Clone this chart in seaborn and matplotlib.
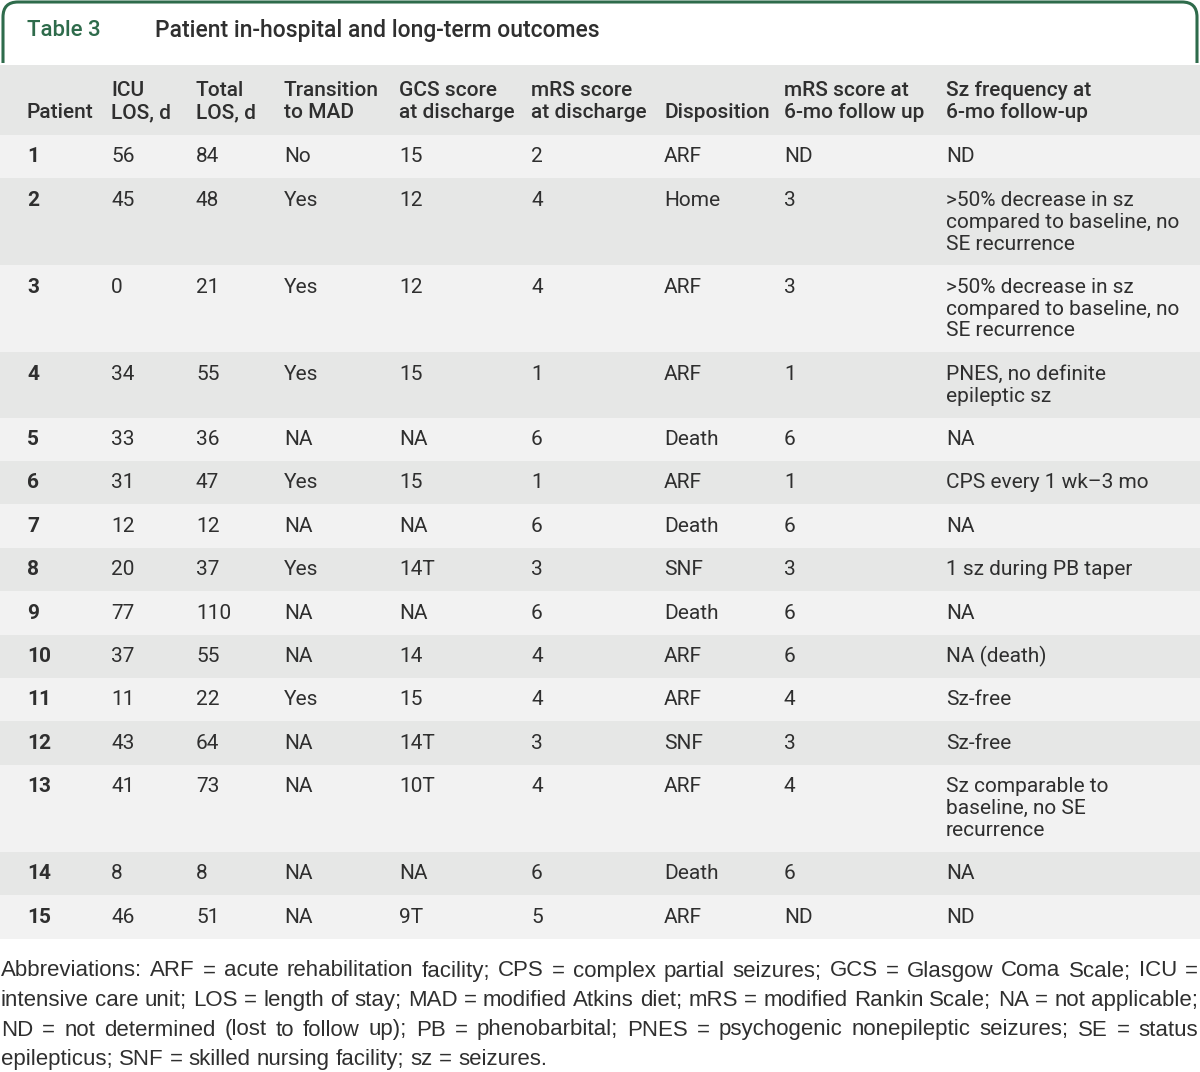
"""
Table 3 - patient in-hospital and long-term outcomes, drawn as a figure
"""

import numpy as np
import pandas as pd
import matplotlib.pyplot as plt
from matplotlib.path import Path
from matplotlib.patches import PathPatch
import seaborn as sns

sns.set_theme(style='white')
plt.rcParams['font.family'] = ['Roboto', 'DejaVu Sans']

# ---- table content ----
title_tag = 'Table 3'
title_text = 'Patient in-hospital and long-term outcomes'

header_line1 = ['', 'ICU', 'Total', 'Transition', 'GCS score', 'mRS score', '',
                'mRS score at', 'Sz frequency at']
header_line2 = ['Patient', 'LOS, d', 'LOS, d', 'to MAD', 'at discharge',
                'at discharge', 'Disposition', '6-mo follow up', '6-mo follow-up']

patient = ['1', '2', '3', '4', '5', '6', '7', '8', '9', '10', '11', '12', '13', '14', '15']
icu_los = ['56', '45', '0', '34', '33', '31', '12', '20', '77', '37', '11', '43', '41', '8', '46']
total_los = ['84', '48', '21', '55', '36', '47', '12', '37', '110', '55', '22', '64', '73', '8', '51']
transition = ['No', 'Yes', 'Yes', 'Yes', 'NA', 'Yes', 'NA', 'Yes', 'NA', 'NA', 'Yes', 'NA',
              'NA', 'NA', 'NA']
gcs = ['15', '12', '12', '15', 'NA', '15', 'NA', '14T', 'NA', '14', '15', '14T', '10T',
       'NA', '9T']
mrs_discharge = ['2', '4', '4', '1', '6', '1', '6', '3', '6', '4', '4', '3', '4', '6', '5']
disposition = ['ARF', 'Home', 'ARF', 'ARF', 'Death', 'ARF', 'Death', 'SNF', 'Death', 'ARF',
               'ARF', 'SNF', 'ARF', 'Death', 'ARF']
mrs_6mo = ['ND', '3', '3', '1', '6', '1', '6', '3', '6', '6', '4', '3', '4', '6', 'ND']
sz_freq = ['ND',
           '>50% decrease in sz\ncompared to baseline, no\nSE recurrence',
           '>50% decrease in sz\ncompared to baseline, no\nSE recurrence',
           'PNES, no definite\nepileptic sz',
           'NA',
           'CPS every 1 wk\u20133 mo',
           'NA',
           '1 sz during PB taper',
           'NA',
           'NA (death)',
           'Sz-free',
           'Sz-free',
           'Sz comparable to\nbaseline, no SE\nrecurrence',
           'NA',
           'ND']

footnote_lines = [
    'Abbreviations: ARF = acute rehabilitation facility; CPS = complex partial seizures; GCS = Glasgow Coma Scale; ICU =',
    'intensive care unit; LOS = length of stay; MAD = modified Atkins diet; mRS = modified Rankin Scale; NA = not applicable;',
    'ND = not determined (lost to follow up); PB = phenobarbital; PNES = psychogenic nonepileptic seizures; SE = status',
    'epilepticus; SNF = skilled nursing facility; sz = seizures.',
]

df = pd.DataFrame({
    'patient': patient, 'icu': icu_los, 'total': total_los, 'mad': transition,
    'gcs': gcs, 'mrs_dc': mrs_discharge, 'disp': disposition, 'mrs_6': mrs_6mo,
    'sz': sz_freq,
})

# ---- layout / style ----
GREEN = '#2e6b4b'
TEXT = '#2f2f2f'
ROW_LIGHT = '#f2f2f2'
ROW_DARK = '#e6e7e6'
FS = 15
FOOT_FS = 16
FOOT_FONT = ['Liberation Sans', 'DejaVu Sans']

col_x = [27, 111, 196, 284, 399, 531, 664, 784, 946]
header_top, header_bottom = 65, 135
line_h = 21.8
single_h = 43.4

n_lines = df['sz'].str.count('\n') + 1
row_h = single_h + (n_lines - 1) * line_h
row_top = header_bottom + np.concatenate([[0], np.cumsum(row_h)[:-1]])
row_center = row_top + row_h / 2

fig = plt.figure(figsize=(12, 10.72), dpi=100)
ax = fig.add_axes([0, 0, 1, 1])
ax.set_xlim(0, 1200)
ax.set_ylim(1072, 0)
ax.axis('off')

# title frame (rounded top, open bottom)
r = 15
verts = [(3, 63), (3, 2 + r), (3, 2), (3 + r, 2), (1197 - r, 2), (1197, 2),
         (1197, 2 + r), (1197, 63)]
codes = [Path.MOVETO, Path.LINETO, Path.CURVE3, Path.CURVE3, Path.LINETO,
         Path.CURVE3, Path.CURVE3, Path.LINETO]
ax.add_patch(PathPatch(Path(verts, codes), facecolor='none', edgecolor=GREEN, lw=2.2))
ax.text(27, 30, title_tag, color=GREEN, fontsize=16, fontweight='medium', va='center')
ax.text(155, 30, title_text, color=TEXT, fontsize=16.5, fontweight='medium', va='center')

# header band + row bands
ax.barh([(header_top + header_bottom) / 2], [1200], height=header_bottom - header_top,
        left=0, color=ROW_DARK, edgecolor='none')
row_colors = [ROW_LIGHT if i % 2 == 0 else ROW_DARK for i in range(len(df))]
ax.barh(row_center, [1200] * len(df), height=row_h, left=0, color=row_colors,
        edgecolor='none')

for x, h1, h2 in zip(col_x, header_line1, header_line2):
    ax.text(x, 90, h1, color=TEXT, fontsize=FS, fontweight='medium', va='center')
    ax.text(x, 113, h2, color=TEXT, fontsize=FS, fontweight='medium', va='center')

cols = ['patient', 'icu', 'total', 'mad', 'gcs', 'mrs_dc', 'disp', 'mrs_6', 'sz']
for i, row in df.iterrows():
    for j, c in enumerate(cols):
        for k, line in enumerate(row[c].split('\n')):
            ax.text(col_x[j], row_top[i] + 22 + k * line_h, line, color=TEXT,
                    fontsize=FS, fontweight='bold' if c == 'patient' else 'normal',
                    va='center')

# footnote, justified
fig.canvas.draw()
renderer = fig.canvas.get_renderer()
probe = ax.text(0, 0, 'a a', fontsize=FOOT_FS, family=FOOT_FONT)
probe2 = ax.text(0, 0, 'aa', fontsize=FOOT_FS, family=FOOT_FONT)
space_w = probe.get_window_extent(renderer).width - probe2.get_window_extent(renderer).width
probe.remove()
probe2.remove()

left, right = 1, 1198
for i, line in enumerate(footnote_lines):
    y = 971 + i * 29.5
    words = line.split(' ')
    texts = [ax.text(0, y, w, color=TEXT, fontsize=FOOT_FS, family=FOOT_FONT, va='center')
             for w in words]
    widths = [t.get_window_extent(renderer).width for t in texts]
    if i < len(footnote_lines) - 1:
        gap = (right - left - sum(widths)) / (len(words) - 1)
    else:
        gap = space_w
    x = left
    for t, w in zip(texts, widths):
        t.set_x(x)
        x += w + gap

plt.savefig('out.png', dpi=100, facecolor='white')
plt.close()
